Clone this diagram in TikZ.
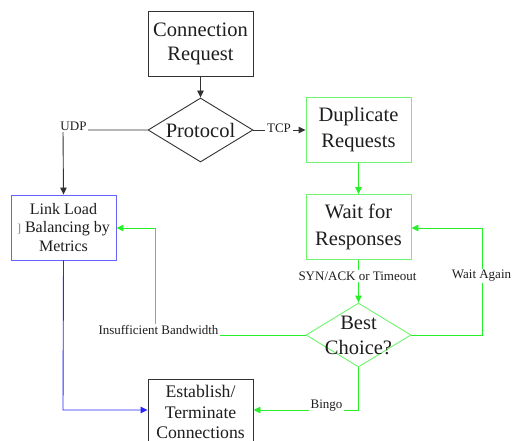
\documentclass[tikz,border=0pt]{standalone}
\usepackage{fontspec}
\setmainfont{Liberation Serif}
\usetikzlibrary{shapes.geometric,arrows.meta}
\definecolor{txt}{RGB}{30,30,30}
\definecolor{dk}{RGB}{50,50,50}
\definecolor{gline}{RGB}{40,240,40}
\definecolor{gbox}{RGB}{110,245,110}
\definecolor{bbox}{RGB}{100,100,250}
\definecolor{bline}{RGB}{40,40,250}
\newcommand{\fs}[2]{\rmfamily\fontsize{#1}{#2}\selectfont}
\tikzset{
  box/.style={draw=dk, line width=0.9pt, minimum width=105pt, minimum height=65pt, inner sep=0pt, align=center, text=txt},
  dia/.style={draw=dk, line width=0.9pt, diamond, minimum width=105pt, minimum height=64pt, inner sep=0pt},
  lab/.style={font=\fs{13}{15}, text=txt, fill=white, inner sep=1.5pt},
  arr/.style={-{Triangle[length=7pt,width=6.5pt]}},
  ln/.style={line width=0.9pt}
}
\begin{document}
\begin{tikzpicture}[x=1pt,y=-1pt]
\useasboundingbox[fill=white] (0,0) rectangle (514,441);
% nodes
\node[box, font=\fs{20.5}{24}] (cr) at (200.5,43.5) {Connection\\Request};
\node[dia] (proto) at (200.5,130) {};
\node[text=txt, font=\fs{20.5}{25}] (protot) at (200.5,130) {Protocol};
\node[box, draw=gbox, font=\fs{20.5}{26}] (dup) at (358.5,130) {Duplicate\\Requests};
\node[box, draw=gbox, font=\fs{20.5}{27}] (wait) at (358.5,227) {Wait for\\Responses};
\node[dia, draw=gbox] (bc) at (358.5,335) {};
\node[text=txt, align=center, font=\fs{20.5}{25}] (bct) at (358.5,335) {Best\\Choice?};
\node[box, draw=bbox, font=\fs{16}{18.5}] (link) at (63.5,227.5) {Link Load\\{\color{gray}\fontsize{12}{12}\selectfont]} Balancing by\\Metrics};
\node[box, font=\fs{17.7}{20.5}, minimum height=66pt] (est) at (200.5,412) {Establish/\\Terminate\\Connections};
% coordinates
\coordinate (udpc) at (63,130);
\coordinate (ibc) at (155,335);
\coordinate (ibt) at (155,228);
\coordinate (wac) at (482,335);
\coordinate (wat) at (482,228);
\coordinate (bgc) at (358.5,410);
\coordinate (blc) at (63,410);
% connectors
\draw[ln, dk, arr] (cr.south) -- (proto.north);
\draw[ln, dk, arr] (proto.west) -- (udpc) -- (link.north);
\node[lab] (udp) at (73.5,126) {UDP};
\draw[ln, dk, arr] (proto.east) -- (dup.west);
\node[lab, inner sep=2pt] (tcp) at (279,128) {TCP};
\draw[ln, gline, arr] (dup.south) -- (wait.north);
\draw[ln, gline, arr] (wait.south) -- (bc.north);
\node[lab] (syn) at (357.5,276) {SYN/ACK or Timeout};
\draw[ln, gline, arr] (bc.east) -- (wac) -- (wat) -- (wait.east |- wat);
\node[lab] (wa) at (481.5,276) {Wait Again};
\draw[ln, gline, arr] (bc.west) -- (ibc) -- (ibt) -- (link.east |- ibt);
\node[lab] (ib) at (158.5,330) {Insufficient Bandwidth};
\draw[ln, gline, arr] (bc.south) -- (bgc) -- (est.east |- bgc);
\node[lab] (bingo) at (326.5,406) {Bingo};
\draw[ln, bline, arr] (link.south) -- (blc) -- (est.west |- blc);
\end{tikzpicture}
\end{document}
